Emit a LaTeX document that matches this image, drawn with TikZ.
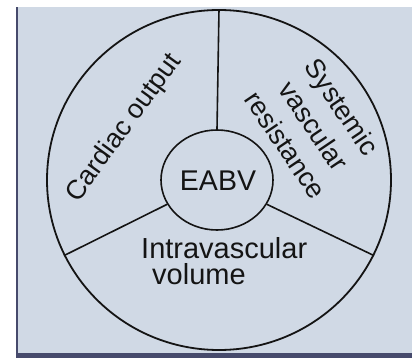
\documentclass[tikz,border=0pt]{standalone}
\usepackage{fontspec}
\setmainfont{Liberation Sans}
\usetikzlibrary{shapes.geometric}
\definecolor{panel}{RGB}{208,217,229}
\definecolor{edge}{RGB}{70,74,108}
\definecolor{ink}{RGB}{20,20,20}
\begin{document}
\begin{tikzpicture}[x=1pt,y=-1pt,
  lbl/.style={inner sep=0pt,text=ink},
  seg/.style={draw=ink,line width=1.6pt}]
\useasboundingbox (0,0) rectangle (412,358);
\fill[white] (0,0) rectangle (412,358);
\fill[panel] (16,7) rectangle (412,353);
\fill[edge] (16,7) rectangle (17.5,358);
\fill[edge] (16,353) rectangle (412,358);
\node[ellipse,draw=ink,line width=1.8pt,minimum width=344pt,minimum height=340pt,inner sep=0pt] (outer) at (219,180) {};
\node[ellipse,draw=ink,line width=1.6pt,minimum width=112pt,minimum height=100pt,inner sep=0pt] (eabv) at (217,180) {};
\node[lbl,font=\fontsize{28.5}{30}\selectfont] (t1) at (218,181) {EABV};
\draw[seg] (eabv.90) -- (outer.90);
\draw[seg] (eabv.206) -- (outer.206);
\draw[seg] (eabv.334) -- (outer.334);
\node[lbl,anchor=base west,font=\fontsize{29}{30}\selectfont] (t2) at (141,258) {Intravascular};
\node[lbl,anchor=base west,font=\fontsize{29}{30}\selectfont] (t3) at (152,284) {volume};
\node[lbl,anchor=base,rotate=54,font=\fontsize{27}{30}\selectfont] (t4) at (130,132) {Cardiac output};
\node[lbl,align=center,rotate=-56,font=\fontsize{27}{34}\selectfont] (t5) at (314,126) {Systemic\\vascular\\resistance};
\end{tikzpicture}
\end{document}
